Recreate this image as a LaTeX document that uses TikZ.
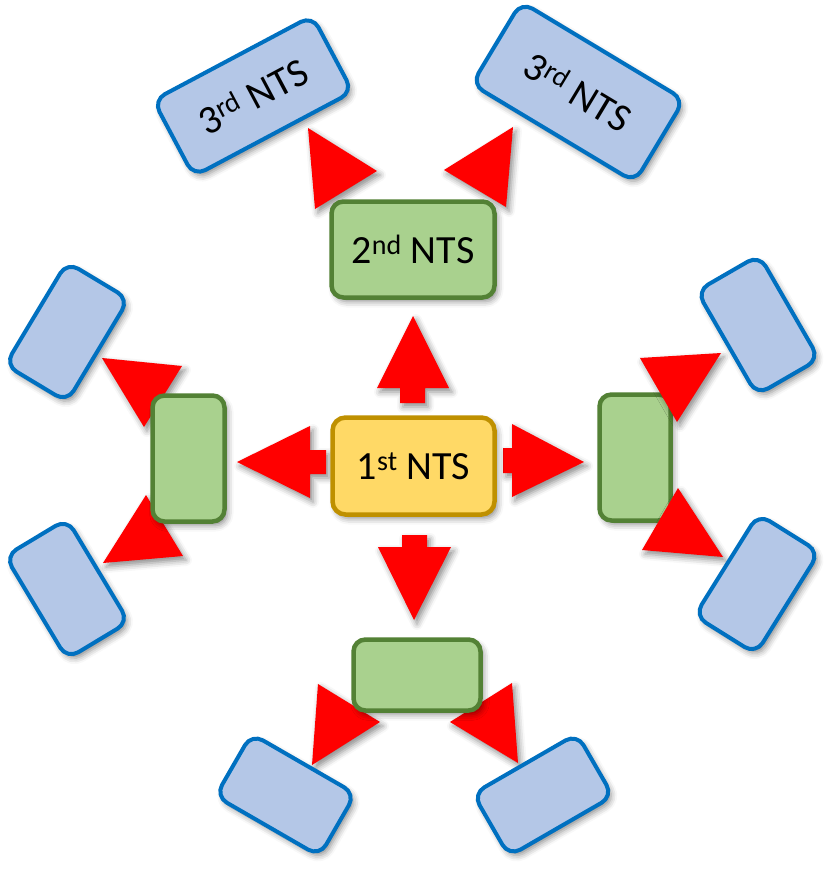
\documentclass[tikz,border=0pt]{standalone}
\usepackage{fontspec}
\setmainfont{Carlito}
\usetikzlibrary{shadows.blur}
\definecolor{boxblue}{HTML}{B4C7E7}
\definecolor{edgeblue}{HTML}{0070C0}
\definecolor{boxgreen}{HTML}{A9D18E}
\definecolor{edgegreen}{HTML}{538135}
\definecolor{boxyellow}{HTML}{FFD966}
\definecolor{edgeyellow}{HTML}{BF9000}
\definecolor{arrowred}{HTML}{FF0000}
\tikzset{
  softshadow/.style={blur shadow={shadow xshift=3pt, shadow yshift=-4pt, shadow blur radius=6pt, shadow opacity=45}},
  boxbase/.style={rectangle, line width=4.5pt, inner sep=0pt, softshadow, font=\fontsize{40}{42}\selectfont, text=black},
  bluebox/.style={boxbase, draw=edgeblue, fill=boxblue, rounded corners=13pt, line width=4pt},
  smallblue/.style={bluebox, minimum width=120pt, minimum height=72pt},
  greenbox/.style={boxbase, draw=edgegreen, fill=boxgreen, rounded corners=12pt},
  yellowbox/.style={boxbase, draw=edgeyellow, fill=boxyellow, rounded corners=13pt},
  redhead/.style={fill=arrowred, softshadow},
}
\begin{document}
\begin{tikzpicture}[x=1pt,y=-1pt]
\useasboundingbox (0,0) rectangle (826,870);
% arrow heads that lie behind the green boxes
\fill[redhead] (308,128) -- (315,209) -- (377,171) -- cycle;
\fill[redhead] (513,127) -- (506,207) -- (444,170) -- cycle;
\fill[redhead] (102,358) -- (182,366) -- (144,427) -- cycle;
\fill[redhead] (146,495) -- (103,563) -- (183,556) -- cycle;
\fill[redhead] (318,684) -- (312,765) -- (380,722) -- cycle;
\fill[redhead] (512,683) -- (518,763) -- (450,722) -- cycle;
% block arrows from the 1st NTS
\fill[redhead] (400,403) -- (400,388) -- (377,388) -- (413,316) -- (449,388) -- (425,388) -- (425,403) -- cycle;
\fill[redhead] (402,535) -- (427,535) -- (427,547) -- (451,547) -- (414,620) -- (378,547) -- (402,547) -- cycle;
\fill[redhead] (326,450) -- (310,450) -- (310,426) -- (237,462) -- (310,498) -- (310,474) -- (326,474) -- cycle;
\fill[redhead] (503,448) -- (512,448) -- (512,424) -- (584,462) -- (512,497) -- (512,473) -- (503,473) -- cycle;
% green boxes
\node[greenbox, minimum width=163pt, minimum height=96pt] (g2) at (413,249.5) {2\textsuperscript{nd} NTS};
\node[greenbox, minimum width=72pt, minimum height=126pt] (gl) at (188.5,458.5) {};
\node[greenbox, minimum width=71pt, minimum height=126pt] (gr) at (635,457.5) {};
\node[greenbox, minimum width=127pt, minimum height=71pt] (gb) at (417,675) {};
% arrow heads in front of the right green box
\fill[redhead] (640,358) -- (721,353) -- (677,422) -- cycle;
\fill[redhead] (678,488) -- (642,550) -- (723,557) -- cycle;
% yellow box
\node[yellowbox, minimum width=162pt, minimum height=97pt] (g1) at (413.5,466) {1\textsuperscript{st} NTS};
% blue boxes
\node[bluebox, minimum width=180pt, minimum height=86pt, rotate=28] (t1) at (253,96) {3\textsuperscript{rd} NTS};
\node[bluebox, minimum width=190pt, minimum height=96pt, rotate=-31] (t2) at (578,92) {3\textsuperscript{rd} NTS};
\node[smallblue, rotate=59] (t3) at (67,332) {};
\node[smallblue, rotate=-59] (t4) at (67,589) {};
\node[smallblue, rotate=-60] (t5) at (758,325) {};
\node[smallblue, rotate=58] (t6) at (757,584) {};
\node[smallblue, rotate=-30] (t7) at (285.5,795) {};
\node[smallblue, rotate=30] (t8) at (543,795) {};
\end{tikzpicture}
\end{document}
